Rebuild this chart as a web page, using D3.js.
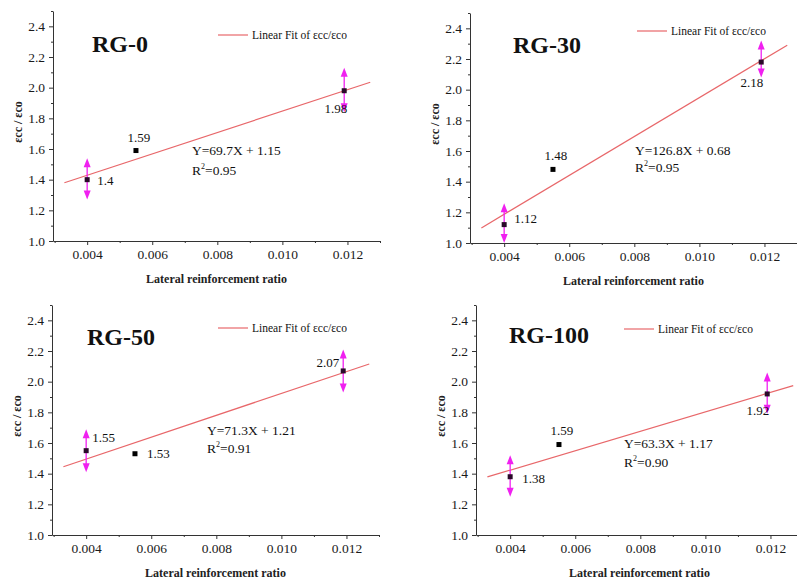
<!DOCTYPE html>
<html>
<head>
<meta charset="utf-8">
<script src="https://cdn.jsdelivr.net/npm/d3@7"></script>
<style>
  body { margin: 0; background: #fff; }
  svg { display: block; font-family: "Liberation Serif", "DejaVu Serif", serif; }
</style>
</head>
<body>
<svg id="chart"></svg>
<script>
"use strict";

// data
const panelNames = ["RG-0", "RG-30", "RG-50", "RG-100"];
const ratio = [0.004, 0.0055, 0.0119];
const strain = [
  [1.40, 1.59, 1.98],
  [1.12, 1.48, 2.18],
  [1.55, 1.53, 2.07],
  [1.38, 1.59, 1.92]
];
const strainLabels = [
  ["1.4", "1.59", "1.98"],
  ["1.12", "1.48", "2.18"],
  ["1.55", "1.53", "2.07"],
  ["1.38", "1.59", "1.92"]
];
const arrowTop = [
  [1.54, null, 2.13],
  [1.26, null, 2.32],
  [1.69, null, 2.21],
  [1.52, null, 2.06]
];
const arrowBottom = [
  [1.27, null, 1.84],
  [1.00, null, 2.08],
  [1.41, null, 1.93],
  [1.25, null, 1.79]
];
const slopes = [69.7, 126.8, 71.3, 63.3];
const intercepts = [1.15, 0.68, 1.21, 1.17];
const rSquared = ["0.95", "0.95", "0.91", "0.90"];
const fitRange = [0.0033, 0.0127];
const xTicks = [0.004, 0.006, 0.008, 0.010, 0.012];
const xMinor = [0.003, 0.005, 0.007, 0.009, 0.011, 0.013];
const yTicks = [1.0, 1.2, 1.4, 1.6, 1.8, 2.0, 2.2, 2.4];
const yMinor = [1.1, 1.3, 1.5, 1.7, 1.9, 2.1, 2.3, 2.5];

// layout (pixels)
const W = 797, H = 581;
const PW = 327, PH = 230;
const origins = [[53, 11], [470, 13], [52, 305], [476, 305]];
const titlePos = [[39, 41], [43, 40], [35, 40], [33, 38]];
const legendPos = [[165, 24], [167, 18], [166, 23], [148, 24]];
const eqPos = [[139, 144, 164], [165, 142, 159], [155, 130, 148], [148, 143, 162]];
// [anchor, dx, dy] for each point label
const labelPos = [
  [["start", 10, 5], ["middle", 3, -9], ["end", 3, 22]],
  [["start", 10, -2], ["middle", 3, -9], ["end", 2, 25]],
  [["start", 6, -9], ["start", 12, 4], ["end", -4, -4]],
  [["start", 12, 6], ["middle", 3, -10], ["end", 2, 21]]
];

const svg = d3.select('#chart')
  .attr('width', W)
  .attr('height', H);

svg.append('rect').attr('width', W).attr('height', H).attr('fill', '#fff');

const FIT_COLOR = '#e8676a';
const ARROW_COLOR = '#f020f0';
const AXIS_COLOR = '#333';

const x = d3.scaleLinear().domain([0.00295, 0.013]).range([0, PW]);
const y = d3.scaleLinear().domain([1.0, 2.5]).range([PH, 0]);

function drawPanel(i){
  const g = svg.append('g')
    .attr('transform', `translate(${origins[i][0]},${origins[i][1]})`);

  // axes
  const xAxis = g.append('g')
    .attr('transform', `translate(0,${PH})`)
    .call(d3.axisBottom(x).tickValues(xTicks).tickFormat(d3.format('.3f')).tickSize(4).tickSizeOuter(0).tickPadding(4));
  g.append('g')
    .attr('transform', `translate(0,${PH})`)
    .call(d3.axisBottom(x).tickValues(xMinor).tickFormat('').tickSize(2).tickSizeOuter(0))
    .select('.domain').remove();
  const yAxis = g.append('g')
    .call(d3.axisLeft(y).tickValues(yTicks).tickFormat(d3.format('.1f')).tickSize(4).tickSizeOuter(0).tickPadding(4));
  g.append('g')
    .call(d3.axisLeft(y).tickValues(yMinor).tickFormat('').tickSize(2).tickSizeOuter(0))
    .select('.domain').remove();

  g.selectAll('.domain, .tick line').attr('stroke', AXIS_COLOR);
  [xAxis, yAxis].forEach(a => a.selectAll('text')
    .attr('font-family', '"Liberation Serif", serif')
    .attr('font-size', 13.5)
    .attr('fill', '#1a1a1a'));

  g.append('text')
    .attr('x', PW / 2)
    .attr('y', PH + 42)
    .attr('text-anchor', 'middle')
    .attr('font-size', 12)
    .attr('font-weight', 'bold')
    .attr('fill', '#222')
    .text('Lateral reinforcement ratio');

  g.append('text')
    .attr('transform', `translate(-35,${PH / 2 - 4}) rotate(-90)`)
    .attr('text-anchor', 'middle')
    .attr('dy', '0.35em')
    .attr('font-size', 12)
    .attr('font-weight', 'bold')
    .attr('fill', '#222')
    .text('εcc / εco');

  // panel title
  g.append('text')
    .attr('x', titlePos[i][0])
    .attr('y', titlePos[i][1])
    .attr('font-size', 24)
    .attr('font-weight', 'bold')
    .attr('fill', '#111')
    .text(panelNames[i]);

  // legend
  const lg = g.append('g').attr('transform', `translate(${legendPos[i][0]},${legendPos[i][1]})`);
  lg.append('line')
    .attr('x1', 0).attr('x2', 30).attr('y1', 0).attr('y2', 0)
    .attr('stroke', FIT_COLOR).attr('stroke-width', 1.2);
  lg.append('text')
    .attr('x', 34).attr('y', 0).attr('dy', '0.35em')
    .attr('font-size', 11.5)
    .attr('fill', '#111')
    .text('Linear Fit of εcc/εco');

  // fit line
  const fit = fitRange.map(v => [v, slopes[i] * v + intercepts[i]]);
  g.append('path')
    .datum(fit)
    .attr('d', d3.line().x(d => x(d[0])).y(d => y(d[1])))
    .attr('stroke', FIT_COLOR)
    .attr('stroke-width', 1.2)
    .attr('fill', 'none');

  // equation
  g.append('text')
    .attr('x', eqPos[i][0]).attr('y', eqPos[i][1])
    .attr('font-size', 13.5).attr('fill', '#111')
    .text(`Y=${slopes[i]}X + ${intercepts[i].toFixed(2)}`);
  const r2 = g.append('text')
    .attr('x', eqPos[i][0]).attr('y', eqPos[i][2])
    .attr('font-size', 13.5).attr('fill', '#111');
  r2.append('tspan').text('R');
  r2.append('tspan').attr('font-size', 8).attr('dy', -6).text('2');
  r2.append('tspan').attr('dy', 6).text('=' + rSquared[i]);

  // arrows (scatter bands)
  const pts = ratio.map((r, k) => ({
    r: r, v: strain[i][k], top: arrowTop[i][k], bot: arrowBottom[i][k],
    label: strainLabels[i][k], pos: labelPos[i][k]
  }));
  const withArrows = pts.filter(d => d.top !== null);
  const ag = g.append('g');
  ag.selectAll('line')
    .data(withArrows)
    .join('line')
    .attr('x1', d => x(d.r)).attr('x2', d => x(d.r))
    .attr('y1', d => y(d.top) + 6).attr('y2', d => y(d.bot) - 6)
    .attr('stroke', ARROW_COLOR).attr('stroke-width', 1.3);
  ag.selectAll('path.up')
    .data(withArrows)
    .join('path')
    .attr('class', 'up')
    .attr('d', d => `M${x(d.r)},${y(d.top)} l-3.5,9 l7,0 z`)
    .attr('fill', ARROW_COLOR);
  ag.selectAll('path.down')
    .data(withArrows)
    .join('path')
    .attr('class', 'down')
    .attr('d', d => `M${x(d.r)},${y(d.bot)} l-3.5,-9 l7,0 z`)
    .attr('fill', ARROW_COLOR);

  // points
  g.append('g').selectAll('rect')
    .data(pts)
    .join('rect')
    .attr('x', d => x(d.r) - 2.5)
    .attr('y', d => y(d.v) - 2.5)
    .attr('width', 5).attr('height', 5)
    .attr('fill', d => d.top !== null ? '#2a0a2a' : '#000');

  g.append('g').selectAll('text')
    .data(pts)
    .join('text')
    .attr('x', d => x(d.r) + d.pos[1])
    .attr('y', d => y(d.v) + d.pos[2])
    .attr('text-anchor', d => d.pos[0])
    .attr('font-size', 13)
    .attr('fill', '#111')
    .text(d => d.label);
}

panelNames.forEach((n, i) => drawPanel(i));
</script>
</body>
</html>
